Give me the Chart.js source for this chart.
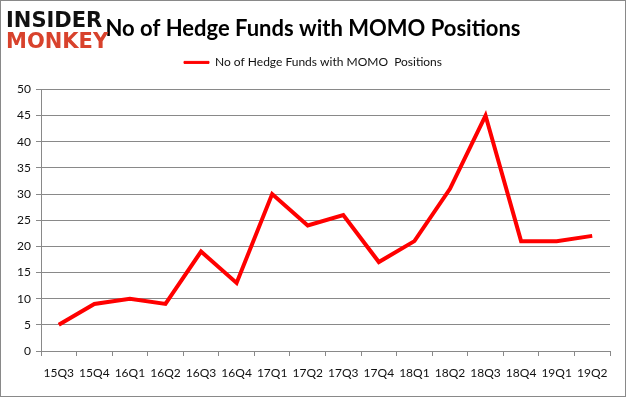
<!DOCTYPE html>
<html lang="en">
<head>
    <meta charset="UTF-8">
    <title>No of Hedge Funds with MOMO Positions</title>
    <script src="https://cdn.jsdelivr.net/npm/chart.js"></script>
    <style>
        body { margin: 0; background: #fff; }
        #wrap { position: relative; width: 626px; height: 397px; box-sizing: border-box; border: 1px solid #898989; }
        #logo { position: absolute; left: 5px; top: 9px; font-family: "DejaVu Sans", sans-serif; font-weight: bold; line-height: 21px; }
        #logo .a { color: #111; font-size: 21px; }
        #logo .b { color: #d8422c; font-size: 21px; }
    </style>
</head>
<body>
<div id="wrap">
    <canvas id="hfChart" width="624" height="395"></canvas>
    <div id="logo"><div class="a">INSIDER</div><div class="b">MONKEY</div></div>
</div>
<script>
    const quarters = ['15Q3', '15Q4', '16Q1', '16Q2', '16Q3', '16Q4', '17Q1', '17Q2',
                      '17Q3', '17Q4', '18Q1', '18Q2', '18Q3', '18Q4', '19Q1', '19Q2'];
    const fundCounts = [5, 9, 10, 9, 19, 13, 30, 24, 26, 17, 21, 31, 45, 21, 21, 22];
    const seriesName = 'No of Hedge Funds with MOMO  Positions';
    const titleText = 'No of Hedge Funds with MOMO Positions';

    const font = 'Lato, "Open Sans", sans-serif';
    const ctx = document.getElementById('hfChart').getContext('2d');

    // empty axes used only as spacers around the plot area
    const spacer = function (size, horizontal) {
        return {
            display: true,
            grid: { display: false },
            border: { display: false },
            ticks: { display: false },
            afterFit: function (s) {
                if (horizontal) { s.height = size; } else { s.width = size; }
            }
        };
    };

    new Chart(ctx, {
        type: 'line',
        data: {
            labels: quarters,
            datasets: [{
                label: seriesName,
                data: fundCounts,
                borderColor: '#ff0000',
                backgroundColor: '#ff0000',
                borderWidth: 4,
                pointRadius: 0,
                tension: 0,
                fill: false
            }]
        },
        options: {
            responsive: false,
            animation: false,
            layout: { padding: 0 },
            plugins: {
                title: {
                    display: true,
                    text: titleText,
                    color: '#000',
                    font: { family: font, size: 22, weight: 'bold' },
                    padding: { top: 15, bottom: 4 }
                },
                legend: {
                    display: true,
                    labels: {
                        color: '#111',
                        font: { family: font, size: 12 },
                        boxWidth: 25,
                        boxHeight: 2,
                        padding: 10,
                        generateLabels: function (chart) {
                            return Chart.defaults.plugins.legend.labels.generateLabels(chart).map(function (l) {
                                l.lineWidth = 1;
                                return l;
                            });
                        }
                    }
                },
                tooltip: { enabled: false }
            },
            scales: {
                x: {
                    offset: true,
                    grid: { display: true, drawOnChartArea: false, drawTicks: true, tickLength: 5, color: '#898989', offset: true },
                    border: { color: '#898989' },
                    ticks: { color: '#111', font: { family: font, size: 12 }, padding: 10, maxRotation: 0, autoSkip: false },
                    afterFit: function (s) { s.height = 45; }
                },
                y: {
                    min: 0,
                    max: 50,
                    grid: { color: '#898989', tickLength: 5 },
                    border: { color: '#898989' },
                    ticks: { stepSize: 5, color: '#111', font: { family: font, size: 12 }, padding: 5 },
                    afterFit: function (s) { s.width = 40; }
                },
                topGap: Object.assign({ type: 'linear', position: 'top' }, spacer(11, true)),
                rightGap: Object.assign({ type: 'linear', position: 'right' }, spacer(15, false))
            }
        }
    });
</script>
</body>
</html>
